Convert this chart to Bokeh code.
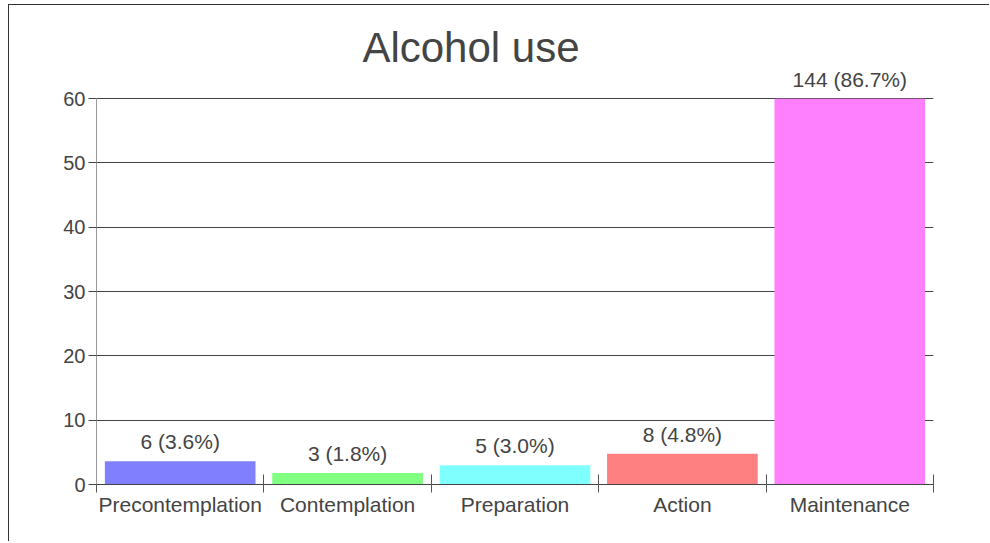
from bokeh.plotting import figure
from bokeh.models import ColumnDataSource, Range1d, FixedTicker, LabelSet, Label
from bokeh.core.properties import value
from bokeh.embed import file_html
from bokeh.resources import INLINE

title = "Alcohol use"
categories = ["Precontemplation", "Contemplation", "Preparation", "Action", "Maintenance"]
counts = [6, 3, 5, 8, 144]
percents = [3.6, 1.8, 3.0, 4.8, 86.7]
colors = ["#8080ff", "#80ff80", "#80ffff", "#ff8080", "#ff80ff"]
y_ticks = [0, 10, 20, 30, 40, 50, 60]
y_max = 60

FONT = "Liberation Sans"
TXT = "#444444"

xs = [i + 0.5 for i in range(len(categories))]
labels = [f"{c} ({p:.1f}%)" for c, p in zip(counts, percents)]
shown = [min(p, y_max) for p in percents]   # values above the axis maximum are cut at the top

src = ColumnDataSource(dict(x=xs, top=shown, color=colors, label=labels))

# frame extends above the value axis so that the title and the top label fit inside it
p = figure(width=981, height=537, output_backend="svg", toolbar_location=None,
           x_range=Range1d(0, len(categories)), y_range=Range1d(0, 72),
           min_border_left=87, min_border_right=57, min_border_top=16, min_border_bottom=58)
p.styles = {"border-left": "1px solid #333333", "border-top": "1px solid #333333",
            "margin-top": "4px", "margin-left": "8px"}
p.outline_line_color = None
p.background_fill_color = "white"

p.vbar(x="x", top="top", width=0.9, bottom=0, color="color", line_color=None, source=src)

p.add_layout(LabelSet(x="x", y="top", text="label", source=src, text_align="center",
                      text_baseline="bottom", y_offset=8, text_font=value(FONT),
                      text_font_size=value("21px"), text_color=TXT))

p.add_layout(Label(x=2.237, y=68.0, text=title, text_align="center",
                   text_baseline="alphabetic", text_font=FONT,
                   text_font_size="42px", text_color=TXT))

# axes
p.xaxis.ticker = FixedTicker(ticks=xs, minor_ticks=list(range(len(categories) + 1)))
p.xaxis.major_label_overrides = {x: c for x, c in zip(xs, categories)}
p.xaxis.major_tick_line_color = None
p.xaxis.minor_tick_in = 10
p.xaxis.minor_tick_out = 8
p.xaxis.minor_tick_line_color = "#555555"
p.xaxis.axis_line_color = "#444444"
p.xaxis.major_label_standoff = 0
p.xaxis.major_label_text_font = FONT
p.xaxis.major_label_text_font_size = "21px"
p.xaxis.major_label_text_color = TXT

p.yaxis.ticker = FixedTicker(ticks=y_ticks)
p.yaxis.bounds = (0, y_max)
p.yaxis.minor_tick_line_color = None
p.yaxis.major_tick_in = 0
p.yaxis.major_tick_out = 8
p.yaxis.major_tick_line_color = "#444444"
p.yaxis.axis_line_color = "#999999"
p.yaxis.major_label_standoff = 3
p.yaxis.major_label_text_font = FONT
p.yaxis.major_label_text_font_size = "20px"
p.yaxis.major_label_text_color = TXT

p.xgrid.grid_line_color = None
p.ygrid.grid_line_color = "#444444"
p.ygrid.grid_line_alpha = 1.0

open("out.html", "w").write(file_html(p, INLINE))
